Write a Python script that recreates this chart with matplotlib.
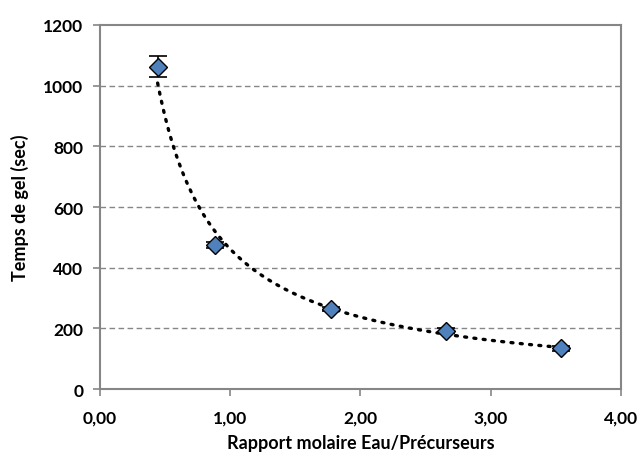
import numpy as np
import matplotlib.pyplot as plt

plt.rcParams['font.family'] = ['Lato', 'DejaVu Sans']

# Rapport molaire Eau/Précurseurs et temps de gel
ratio = [0.4425, 0.885, 1.77, 2.655, 3.54]
gel_time = [1063, 476, 264, 192, 135]
gel_err = [35, 10, 8, 8, 8]

xticks = [0, 1, 2, 3, 4]
xtick_labels = ['0,00', '1,00', '2,00', '3,00', '4,00']
yticks = [0, 200, 400, 600, 800, 1000, 1200]

# courbe de tendance (puissance)
b, ln_a = np.polyfit(np.log(ratio), np.log(gel_time), 1)
xs = np.linspace(min(ratio), max(ratio), 300)
ys = np.exp(ln_a) * xs ** b

fig = plt.figure(figsize=(6.39, 4.6), dpi=100)
ax = fig.add_axes([0.1565, 0.152, 0.8153, 0.7915])

grey = '#868686'
for yv in yticks[1:-1]:
    ax.axhline(yv, color=grey, lw=1, ls=(0, (4, 2.5)), zorder=0)

ax.plot(xs, ys, color='black', lw=2.4, ls=(0, (0.6, 2.2)),
        dash_capstyle='round', zorder=2)
ax.errorbar(ratio, gel_time, yerr=gel_err, fmt='none', ecolor='black',
            elinewidth=1.2, capsize=6.5, capthick=1.2, zorder=3)
ax.plot(ratio, gel_time, ls='none', marker='D', markersize=9.5,
        markerfacecolor='#4F81BD', markeredgecolor='black',
        markeredgewidth=1, zorder=4)

ax.set_xlim(0, 4)
ax.set_ylim(0, 1200)
ax.set_xticks(xticks)
ax.set_xticklabels(xtick_labels)
ax.set_yticks(yticks)

for s in ax.spines.values():
    s.set_color(grey)
    s.set_linewidth(1.5)

ax.tick_params(axis='both', colors=grey, length=5, width=1.2,
               labelcolor='black', labelsize=12.5)
for lab in ax.get_xticklabels() + ax.get_yticklabels():
    lab.set_fontweight('bold')
ax.tick_params(axis='x', pad=10)
ax.tick_params(axis='y', pad=7)

ax.set_xlabel('Rapport molaire Eau/Précurseurs', fontsize=13,
              fontweight='bold', labelpad=6)
ax.set_ylabel('Temps de gel (sec)', fontsize=13, fontweight='bold',
              labelpad=10)

fig.savefig('out.png', dpi=100)
